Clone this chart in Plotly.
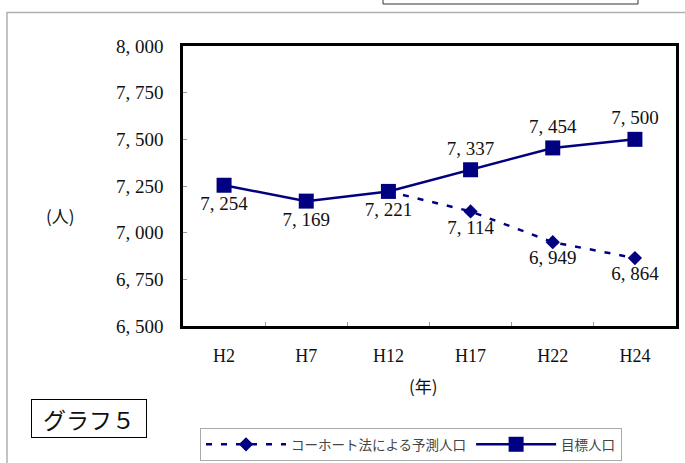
import plotly.graph_objects as go

years = ["H2", "H7", "H12", "H17", "H22", "H24"]
target = [7254, 7169, 7221, 7337, 7454, 7500]
cohort = [None, None, 7221, 7114, 6949, 6864]
y_ticks = [6500, 6750, 7000, 7250, 7500, 7750, 8000]

NAVY = "#000080"
NUMFONT = "Liberation Serif"
JPFONT = "Noto Sans CJK JP"


def fmt(v):
    return f"{v:,}".replace(",", ", ")


# plot area in pixels
L, R, T, B = 183, 676, 46, 326
W, H = 685, 463


def px(x):
    return (x - L) / (R - L)


def py(y):
    return (B - y) / (B - T)


target_pos = ["bottom center", "bottom center", "bottom center",
              "top center", "top center", "top center"]
cohort_text = ["" if (v is None or i == 2) else fmt(v) for i, v in enumerate(cohort)]

fig = go.Figure()
fig.add_trace(go.Scatter(
    x=years, y=cohort, name="コーホート法による予測人口",
    mode="lines+markers+text",
    line=dict(color=NAVY, width=2.5, dash="6px,9px"),
    marker=dict(symbol="diamond", size=11, color=NAVY),
    text=cohort_text, textposition="bottom center",
    textfont=dict(family=NUMFONT, size=19, color="#111"),
    connectgaps=False,
))
fig.add_trace(go.Scatter(
    x=years, y=target, name="目標人口",
    mode="lines+markers+text",
    line=dict(color=NAVY, width=2.5),
    marker=dict(symbol="square", size=15, color=NAVY),
    text=[fmt(v) for v in target], textposition=target_pos,
    textfont=dict(family=NUMFONT, size=19, color="#111"),
))

fig.update_layout(
    width=W, height=H,
    margin=dict(l=L, r=W - R, t=T, b=H - B, autoexpand=False),
    paper_bgcolor="white", plot_bgcolor="white",
    showlegend=True,
    legend=dict(
        orientation="h", x=px(200), y=py(428), xanchor="left", yanchor="top",
        bordercolor="#aaaaaa", borderwidth=1, bgcolor="white",
        font=dict(family=JPFONT, size=13.5, color="#444"),
        itemwidth=80, tracegroupgap=0,
    ),
    xaxis=dict(
        type="category", range=[-0.5, 5.5],
        showline=True, linecolor="black", linewidth=2.5, mirror=True,
        showgrid=False, zeroline=False,
        ticks="inside", tickson="boundaries", ticklen=4, tickcolor="#999",
        tickfont=dict(family=NUMFONT, size=18, color="#111"),
        ticklabelstandoff=12,
    ),
    yaxis=dict(
        range=[6500, 8000],
        tickvals=y_ticks, ticktext=[fmt(v) for v in y_ticks],
        showline=True, linecolor="black", linewidth=2.5, mirror=True,
        showgrid=False, zeroline=False,
        ticks="inside", ticklen=4, tickcolor="#999",
        tickfont=dict(family=NUMFONT, size=19, color="#111"),
        ticklabelstandoff=13,
    ),
    shapes=[
        dict(type="rect", xref="paper", yref="paper",
             x0=px(7), x1=px(700), y0=py(480), y1=py(12.5),
             line=dict(color="#b0b0b0", width=1.5), layer="below"),
        dict(type="rect", xref="paper", yref="paper",
             x0=px(383), x1=px(638), y0=py(4), y1=py(-10),
             line=dict(color="#333", width=1), layer="below"),
    ],
    annotations=[
        dict(text="(人)", xref="paper", yref="paper", x=px(60), y=py(215),
             xanchor="center", yanchor="middle",
             showarrow=False, font=dict(family=JPFONT, size=17, color="#111")),
        dict(text="(年)", xref="paper", yref="paper", x=px(423), y=py(385),
             xanchor="center", yanchor="middle",
             showarrow=False, font=dict(family=JPFONT, size=17, color="#111")),
        dict(text="グラフ５", xref="paper", yref="paper", x=px(89), y=py(418.5),
             xanchor="center", yanchor="middle",
             showarrow=False, font=dict(family=JPFONT, size=23, color="#111"),
             bordercolor="black", borderwidth=1, borderpad=2,
             width=110, height=33, bgcolor="white"),
    ],
)

fig.write_html("out.html")
